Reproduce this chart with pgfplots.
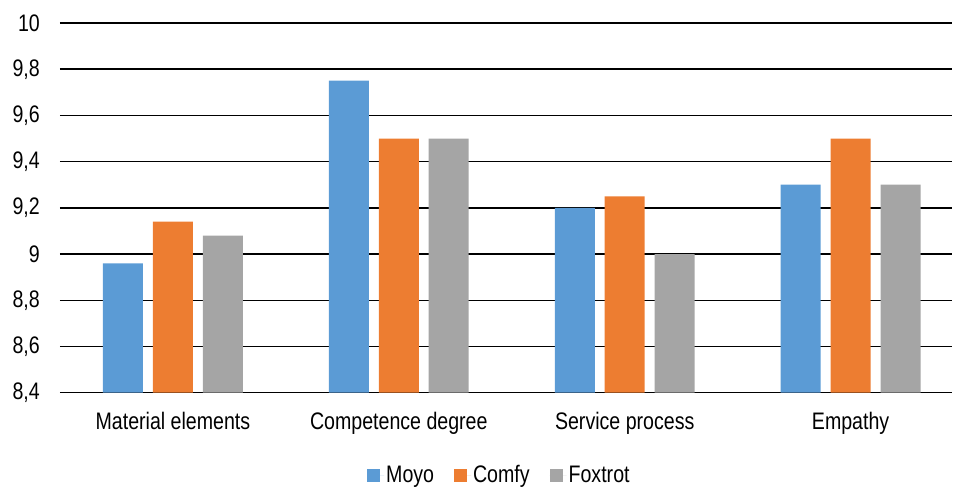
\documentclass[border=0pt]{standalone}
\usepackage{pgfplots}
\pgfplotsset{compat=1.18}
\usepackage{fontspec}
\setmainfont{Liberation Sans}[FakeStretch=0.82]
\definecolor{cblue}{HTML}{5B9BD5}
\definecolor{corange}{HTML}{ED7D31}
\definecolor{cgrey}{HTML}{A5A5A5}
\begin{document}
\fontsize{24}{28}\selectfont
\begin{tikzpicture}
\begin{axis}[
  name=ax,
  scale only axis,
  width=893bp, height=370bp,
  xmin=-0.5, xmax=3.45,
  ymin=8.4, ymax=10,
  ytick={8.4,8.6,8.8,9,9.2,9.4,9.6,9.8,10},
  xtick={0,1,2,3},
  xticklabels={Material elements,Competence degree,Service process,Empathy},
  /pgf/number format/.cd, use comma, fixed, precision=1, assume math mode=true,
  /pgfplots/.cd,
  major tick length=0pt,
  axis line style={draw=none},
  ymajorgrids,
  grid style={black, line width=1.5bp},
  yticklabel style={xshift=-12bp},
  xticklabel style={yshift=-11bp},
  ybar, bar width=0.177,
  clip=false,
  legend style={at={(0.4925,-0.225)}, anchor=center, draw=none, legend columns=3,
    /tikz/every even column/.append style={column sep=18bp}},
  legend image code/.code={\fill[#1] (0bp,-6.5bp) rectangle (13bp,6.5bp); \path (0bp,0bp) -- (17bp,0bp);},
]
\addplot[fill=cblue, draw=none, bar shift=-0.221] coordinates {(0,8.96) (1,9.75) (2,9.2) (3,9.3)};
\addplot[fill=corange, draw=none, bar shift=0] coordinates {(0,9.14) (1,9.5) (2,9.25) (3,9.5)};
\addplot[fill=cgrey, draw=none, bar shift=0.221] coordinates {(0,9.08) (1,9.5) (2,9.0) (3,9.3)};
\legend{Moyo,Comfy,Foxtrot}
\end{axis}
\path[use as bounding box] ([xshift=-60bp,yshift=-94bp]ax.south west) rectangle ([yshift=23bp]ax.north east);
\end{tikzpicture}
\end{document}
